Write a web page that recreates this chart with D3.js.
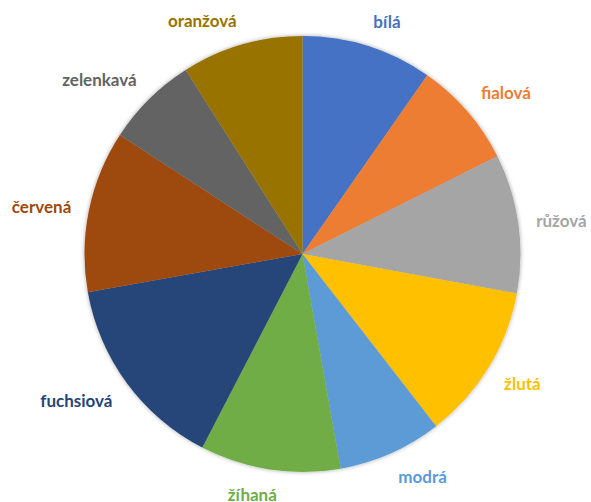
<!DOCTYPE html>
<html>
<head>
<meta charset="utf-8">
<script src="https://cdn.jsdelivr.net/npm/d3@7"></script>
<style>
  html, body { margin: 0; padding: 0; background: #fff; }
  svg { display: block; }
  .lbl { font-family: Lato, "Open Sans", sans-serif; font-weight: 700; font-size: 17px; }
</style>
</head>
<body>
<svg id="chart" width="591" height="502"></svg>
<script>
// Categories in clockwise order from 12 o'clock
const categories = ["bílá", "fialová", "růžová", "žlutá", "modrá", "žíhaná", "fuchsiová", "červená", "zelenkavá", "oranžová"];
// Share of each category (%)
const values = [9.7, 7.9, 10.3, 11.6, 7.7, 10.4, 14.6, 12.0, 6.8, 9.0];
// Office palette
const colors = ["#4472C4", "#ED7D31", "#A5A5A5", "#FFC000", "#5B9BD5", "#70AD47", "#264478", "#9E480E", "#636363", "#997300"];

const W = 591, H = 502;
const cx = 302.5, cy = 254, r = 218;

const svg = d3.select("#chart");

const defs = svg.append("defs");
const f = defs.append("filter").attr("id", "shadow")
  .attr("x", "-10%").attr("y", "-10%").attr("width", "120%").attr("height", "120%");
f.append("feDropShadow").attr("dx", 0).attr("dy", 0).attr("stdDeviation", 2.2)
  .attr("flood-color", "#000").attr("flood-opacity", 0.35);

const data = categories.map((c, i) => ({ name: c, value: values[i], color: colors[i] }));

const pie = d3.pie().value(d => d.value).sort(null);
const arcs = pie(data);
const arc = d3.arc().innerRadius(0).outerRadius(r);

const g = svg.append("g").attr("transform", `translate(${cx},${cy})`);

g.append("g").attr("filter", "url(#shadow)")
  .selectAll("path").data(arcs).join("path")
  .attr("d", arc)
  .attr("fill", d => d.data.color);

// Outside-end labels: anchor point on a ring just outside the rim,
// text box slid away from the pie depending on direction
const labelR = r + 18;
const clamp = (v, lo, hi) => Math.max(lo, Math.min(hi, v));
const labels = g.selectAll("text.lbl").data(arcs).join("text")
  .attr("class", "lbl")
  .attr("fill", d => d.data.color)
  .attr("text-anchor", "middle")
  .attr("dominant-baseline", "central")
  .text(d => d.data.name);

labels.each(function(d) {
  const a = (d.startAngle + d.endAngle) / 2;
  const s = Math.sin(a), c = Math.cos(a);
  const w = this.getComputedTextLength();
  const h = 14;
  const kx = clamp(s * 4, -1, 1);
  const ky = Math.sign(c) * clamp((Math.abs(c) - 0.2) / 0.3, 0, 1);
  const x = s * labelR + kx * w / 2;
  const y = -c * labelR - ky * h / 2;
  d3.select(this).attr("x", x).attr("y", y);
});
</script>
</body>
</html>
